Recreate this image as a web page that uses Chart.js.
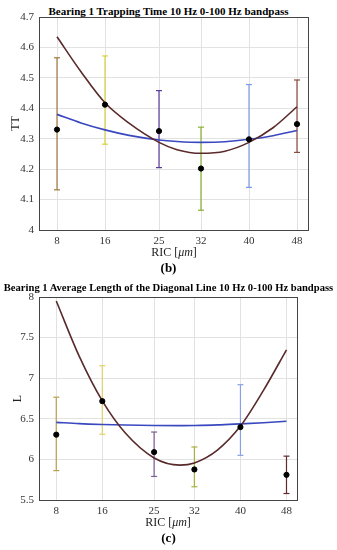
<!DOCTYPE html>
<html>
<head>
<meta charset="utf-8">
<script src="https://cdn.jsdelivr.net/npm/chart.js@4"></script>
<style>
  body { margin: 0; background: #fff; width: 337px; height: 550px; position: relative; overflow: hidden; font-family: "Liberation Serif", serif; }
  .box { position: absolute; left: 0; width: 337px; }
  .ttl { position: absolute; left: 0; width: 337px; text-align: center; font-weight: bold; color: #000; white-space: nowrap; }
  .xl { position: absolute; text-align: center; font-size: 12px; color: #222; white-space: nowrap; }
  .tag { position: absolute; left: 0; width: 337px; text-align: center; font-weight: bold; font-size: 13px; color: #000; }
</style>
</head>
<body>
<div class="ttl" style="top:5px;font-size:11px;">Bearing 1 Trapping Time 10 Hz 0-100 Hz bandpass</div>
<div class="box" style="top:0;height:262px;"><canvas id="chartTT"></canvas></div>
<div class="xl" style="top:245px;left:124px;width:100px;">RIC [<i>μm</i>]</div>
<div class="tag" style="top:260px;">(b)</div>

<div class="ttl" style="top:282px;font-size:10.6px;">Bearing 1 Average Length of the Diagonal Line 10 Hz 0-100 Hz bandpass</div>
<div class="box" style="top:280px;height:252px;"><canvas id="chartL"></canvas></div>
<div class="xl" style="top:515px;left:118px;width:100px;">RIC [<i>μm</i>]</div>
<div class="tag" style="top:530px;">(c)</div>

<script>
// RIC values (x) and tick labels
const ric = [8, 16, 25, 32, 40, 48];
const barColors = ['#a07a3c', '#d8d040', '#5b3c9c', '#86b032', '#7d9ae6', '#8a4a3e'];
const barColorsL = ['#b8a04e', '#ddd36a', '#7a5f92', '#a8b03e', '#8aa2e2', '#5e2c2c'];

// (b) Trapping time
const ttMean = [4.33, 4.412, 4.325, 4.202, 4.298, 4.348];
const ttLow  = [4.132, 4.282, 4.205, 4.065, 4.14, 4.255];
const ttHigh = [4.566, 4.572, 4.458, 4.338, 4.478, 4.493];
const ttFitX = [8, 12, 16, 20, 25, 28, 32, 36, 40, 44, 48];
const ttFitBrown = [4.635, 4.52, 4.418, 4.351, 4.288, 4.264, 4.252, 4.259, 4.288, 4.336, 4.405];
const ttFitBlue  = [4.38, 4.352, 4.329, 4.311, 4.296, 4.291, 4.288, 4.29, 4.298, 4.31, 4.327];
const ttTicks = [4, 4.1, 4.2, 4.3, 4.4, 4.5, 4.6, 4.7];

// (c) Average diagonal line length
const lMean = [6.305, 6.717, 6.09, 5.876, 6.398, 5.81];
const lLow  = [5.862, 6.31, 5.79, 5.663, 6.05, 5.58];
const lHigh = [6.766, 7.154, 6.337, 6.153, 6.92, 6.04];
const lFitX = [8, 12, 16, 20, 25, 29.5, 32, 36, 40, 44, 48];
const lFitBrown = [7.95, 7.268, 6.72, 6.324, 6.018, 5.93, 5.957, 6.115, 6.41, 6.85, 7.35];
const lFitBlue  = [6.456, 6.44, 6.43, 6.423, 6.418, 6.416, 6.418, 6.425, 6.438, 6.452, 6.47];
const lTicks = [5.5, 6, 6.5, 7, 7.5, 8];

const frame = {
  id: 'frame',
  afterDraw(chart) {
    const a = chart.chartArea, c = chart.ctx;
    c.save();
    c.strokeStyle = '#444';
    c.lineWidth = 1;
    c.strokeRect(Math.round(a.left) + 0.5, Math.round(a.top) + 0.5, Math.round(a.right - a.left) - 1, Math.round(a.bottom - a.top));
    c.restore();
  }
};

function makeChart(id, o) {
  const datasets = [];
  ric.forEach((x, i) => {
    datasets.push({
      type: 'line',
      data: [{ x: x, y: o.low[i] }, { x: x, y: o.high[i] }],
      borderColor: o.colors[i],
      borderWidth: 1.2,
      pointStyle: 'line',
      pointRadius: 3,
      pointBorderColor: o.colors[i],
      pointBorderWidth: 1.2,
      order: 3
    });
  });
  datasets.push({
    type: 'line',
    data: o.fitX.map((x, i) => ({ x: x, y: o.brown[i] })),
    borderColor: '#5a2a2a',
    borderWidth: 1.6,
    pointRadius: 0,
    cubicInterpolationMode: 'monotone',
    order: 2
  });
  datasets.push({
    type: 'line',
    data: o.fitX.map((x, i) => ({ x: x, y: o.blue[i] })),
    borderColor: '#3a48c0',
    borderWidth: 1.6,
    pointRadius: 0,
    cubicInterpolationMode: 'monotone',
    order: 2
  });
  datasets.push({
    type: 'scatter',
    data: ric.map((x, i) => ({ x: x, y: o.mean[i] })),
    backgroundColor: '#000',
    borderColor: '#000',
    pointRadius: 2.6,
    order: 1
  });

  return new Chart(document.getElementById(id), {
    type: 'scatter',
    data: { datasets },
    options: {
      responsive: true,
      maintainAspectRatio: false,
      animation: false,
      layout: { padding: o.pad },
      plugins: { legend: { display: false }, tooltip: { enabled: false } },
      scales: {
        x: {
          type: 'linear', min: 5, max: 50,
          afterBuildTicks: s => { s.ticks = ric.map(v => ({ value: v })); },
          afterFit: s => { s.height = o.xH; },
          grid: { color: '#e2e2e2', drawTicks: false },
          border: { display: false },
          ticks: { color: '#333', font: { family: 'Liberation Serif', size: 11 }, padding: 5, maxRotation: 0 }
        },
        y: {
          min: o.ticks[0], max: o.ticks[o.ticks.length - 1],
          afterBuildTicks: s => { s.ticks = o.ticks.map(v => ({ value: v })); },
          afterFit: s => { s.width = o.yW; },
          grid: { color: '#e2e2e2', drawTicks: false },
          border: { display: false },
          title: { display: true, text: o.yTitle, color: '#222', font: { family: 'Liberation Serif', size: 12 }, padding: { top: 0, bottom: 0 } },
          ticks: {
            color: '#333', font: { family: 'Liberation Serif', size: 11 }, padding: 5,
            callback: v => String(Number(v.toFixed(2)))
          }
        }
      }
    },
    plugins: [frame]
  });
}

makeChart('chartTT', {
  low: ttLow, high: ttHigh, mean: ttMean, colors: barColors,
  fitX: ttFitX, brown: ttFitBrown, blue: ttFitBlue, ticks: ttTicks,
  yTitle: 'TT', yW: 30, xH: 30, pad: { top: 17, right: 28, bottom: 2, left: 9 }
});
makeChart('chartL', {
  low: lLow, high: lHigh, mean: lMean, colors: barColorsL,
  fitX: lFitX, brown: lFitBrown, blue: lFitBlue, ticks: lTicks,
  yTitle: 'L', yW: 28, xH: 30, pad: { top: 17, right: 39, bottom: 2, left: 11 }
});
</script>
</body>
</html>
